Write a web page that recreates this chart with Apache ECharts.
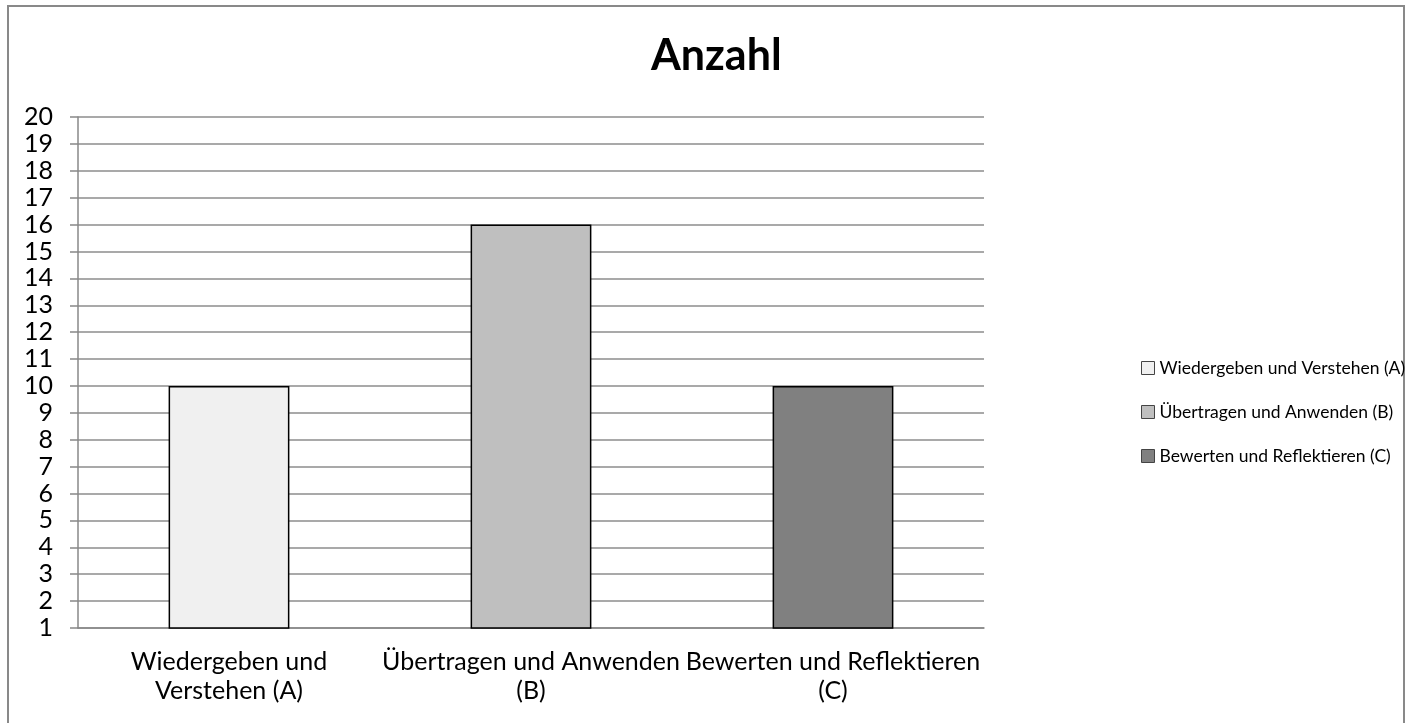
<!DOCTYPE html>
<html>
<head>
<meta charset="utf-8">
<script src="https://cdn.jsdelivr.net/npm/echarts@6/dist/echarts.min.js"></script>
<style>
  html, body { margin: 0; padding: 0; background: #fff; }
  #chart { width: 1407px; height: 723px; }
</style>
</head>
<body>
<div id="chart"></div>
<script>
const categories = ['Wiedergeben und\nVerstehen (A)', 'Übertragen und Anwenden\n(B)', 'Bewerten und Reflektieren\n(C)']
const seriesNames = ['Wiedergeben und Verstehen (A)', 'Übertragen und Anwenden (B)', 'Bewerten und Reflektieren (C)']
const values = [10, 16, 10]
const colors = ['#f0f0f0', '#bfbfbf', '#808080']

const font = 'Lato, "Noto Sans", sans-serif'

// one series per category so the legend lists each bar
const series = seriesNames.map((name, i) => {
  const data = values.map((v, j) => (j === i ? v : '-'))
  return {
    name: name,
    type: 'bar',
    stack: 'all',
    barWidth: '40%',
    data: data,
    itemStyle: { color: colors[i], borderColor: '#000', borderWidth: 1.5 }
  }
})

const chart = echarts.init(document.getElementById('chart'))
chart.setOption({
  animation: false,
  title: {
    text: 'Anzahl',
    left: 646,
    top: 30,
    textStyle: { fontFamily: font, fontSize: 43, fontWeight: 'bold', color: '#000' }
  },
  legend: {
    orient: 'vertical',
    left: 1136,
    top: 354,
    icon: 'rect',
    itemWidth: 13,
    itemHeight: 13,
    itemGap: 26,
    itemStyle: { borderColor: '#444', borderWidth: 1 },
    textStyle: { fontFamily: font, fontSize: 17.5, color: '#000' }
  },
  grid: { left: 78, right: 423, top: 117, bottom: 95 },
  xAxis: {
    type: 'category',
    data: categories,
    axisLine: { lineStyle: { color: '#888', width: 1.5 } },
    axisTick: { length: 8, lineStyle: { color: '#888', width: 1.5 } },
    axisLabel: { interval: 0, fontFamily: font, fontSize: 25, lineHeight: 29, color: '#000', margin: 19 }
  },
  yAxis: {
    type: 'value',
    min: 1,
    max: 20,
    interval: 1,
    axisLine: { show: true, lineStyle: { color: '#888', width: 1.5 } },
    axisTick: { show: true, length: 8, lineStyle: { color: '#888', width: 1.5 } },
    splitLine: { lineStyle: { color: '#8c8c8c', width: 1.5 } },
    axisLabel: { fontFamily: font, fontSize: 25, color: '#000', margin: 25 }
  },
  graphic: [{
    type: 'rect',
    shape: { x: 8, y: 6, width: 1396, height: 730 },
    style: { fill: 'none', stroke: '#898989', lineWidth: 2 }
  }],
  series: series
})
</script>
</body>
</html>
